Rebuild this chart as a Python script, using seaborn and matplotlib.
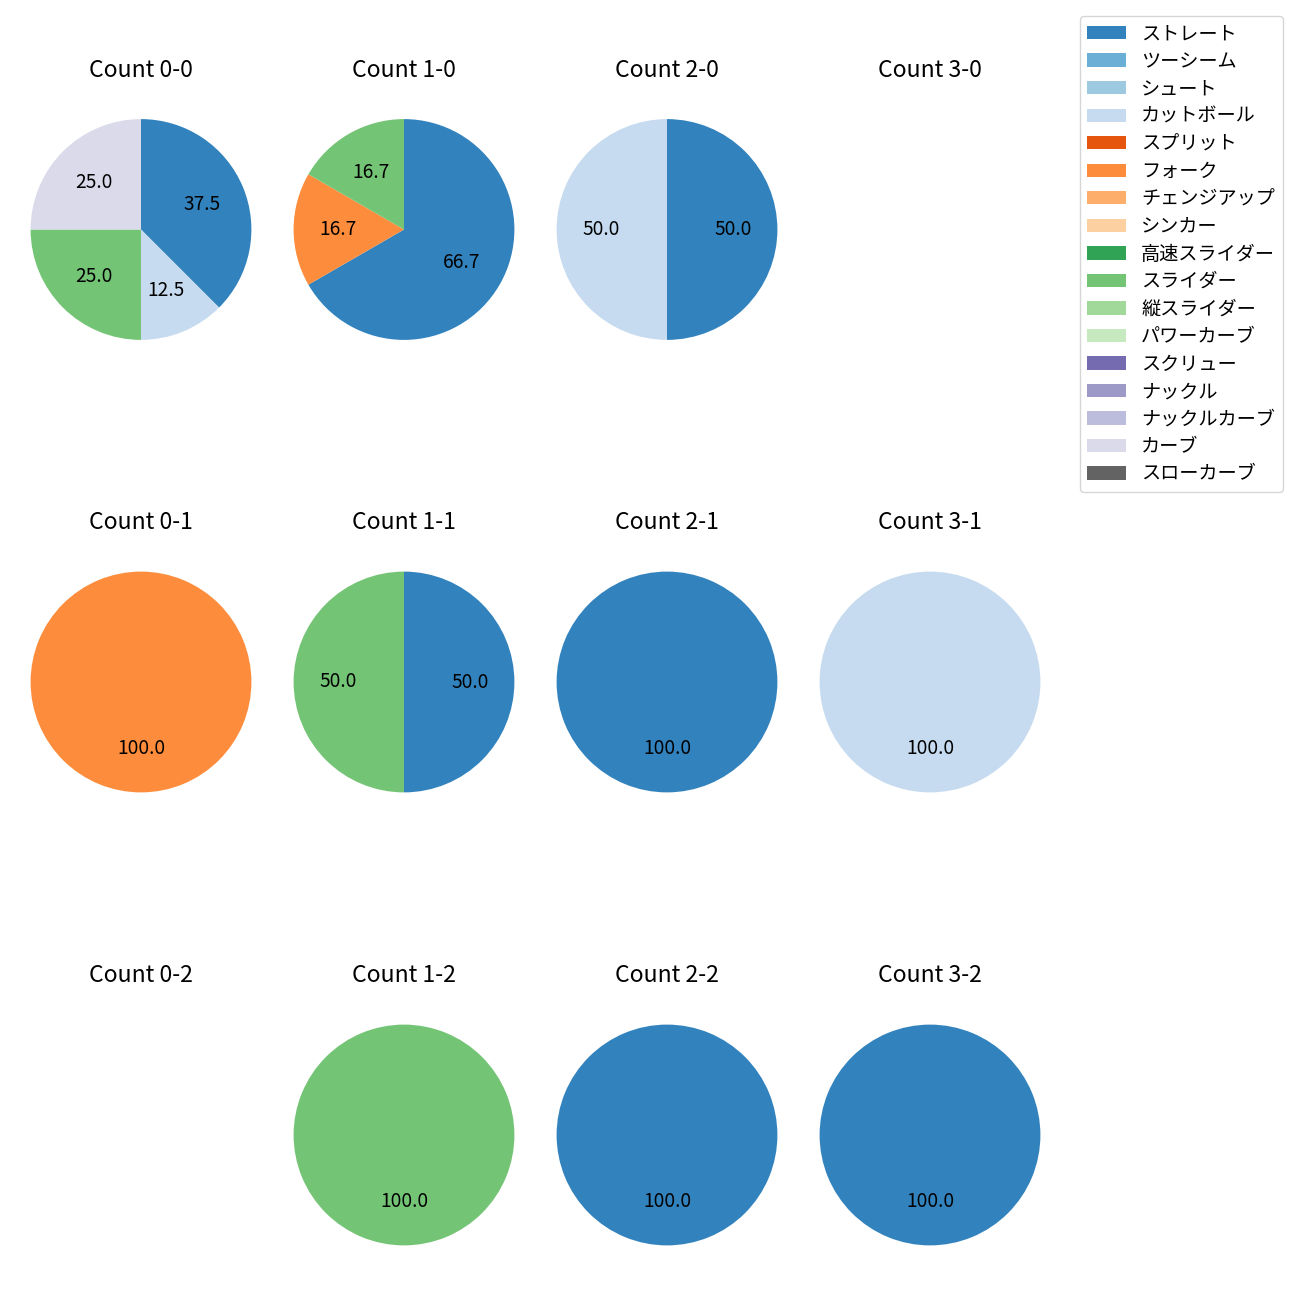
import matplotlib
matplotlib.use("Agg")
import matplotlib.pyplot as plt
from matplotlib.patches import Patch
import seaborn as sns

plt.rcParams['font.family'] = ['Noto Sans CJK JP', 'DejaVu Sans']
plt.rcParams['font.size'] = 13.8

pitch_types = ["ストレート", "ツーシーム", "シュート", "カットボール", "スプリット", "フォーク",
               "チェンジアップ", "シンカー", "高速スライダー", "スライダー", "縦スライダー",
               "パワーカーブ", "スクリュー", "ナックル", "ナックルカーブ", "カーブ", "スローカーブ"]

count_labels = ["0-0", "1-0", "2-0", "3-0",
                "0-1", "1-1", "2-1", "3-1",
                "0-2", "1-2", "2-2", "3-2"]

pitches_0_0 = ["ストレート", "カットボール", "スライダー", "カーブ"]
values_0_0 = [3, 1, 2, 2]
pitches_1_0 = ["ストレート", "フォーク", "スライダー"]
values_1_0 = [4, 1, 1]
pitches_2_0 = ["ストレート", "カットボール"]
values_2_0 = [1, 1]
pitches_3_0 = []
values_3_0 = []
pitches_0_1 = ["フォーク"]
values_0_1 = [1]
pitches_1_1 = ["ストレート", "スライダー"]
values_1_1 = [1, 1]
pitches_2_1 = ["ストレート"]
values_2_1 = [1]
pitches_3_1 = ["カットボール"]
values_3_1 = [1]
pitches_0_2 = []
values_0_2 = []
pitches_1_2 = ["スライダー"]
values_1_2 = [1]
pitches_2_2 = ["ストレート"]
values_2_2 = [1]
pitches_3_2 = ["ストレート"]
values_3_2 = [1]

data = [
    (pitches_0_0, values_0_0), (pitches_1_0, values_1_0), (pitches_2_0, values_2_0), (pitches_3_0, values_3_0),
    (pitches_0_1, values_0_1), (pitches_1_1, values_1_1), (pitches_2_1, values_2_1), (pitches_3_1, values_3_1),
    (pitches_0_2, values_0_2), (pitches_1_2, values_1_2), (pitches_2_2, values_2_2), (pitches_3_2, values_3_2),
]

palette = sns.color_palette("tab20c", 20)[:len(pitch_types)]
color_map = dict(zip(pitch_types, palette))

W = H = 1300
fig, axes = plt.subplots(3, 4, figsize=(13, 13), dpi=100)

col_centers = [141, 404, 667, 930]
row_centers = [229.5, 682, 1135]
side = 276.0

for i, ax in enumerate(axes.flat):
    r, c = divmod(i, 4)
    cx, cy = col_centers[c], row_centers[r]
    ax.set_position([(cx - side / 2) / W, 1 - (cy + side / 2) / H, side / W, side / H])
    pitches, vals = data[i]
    if vals:
        ax.pie(vals, colors=[color_map[p] for p in pitches], autopct='%.1f',
               startangle=90, counterclock=False, wedgeprops={'linewidth': 0})
    else:
        ax.axis('off')
        ax.set_aspect('equal')
    ax.set_title(f"Count {count_labels[i]}", pad=10.5)

handles = [Patch(facecolor=color_map[p], label=p) for p in pitch_types]
fig.legend(handles=handles, loc='upper right', labelspacing=0.34,
           bbox_to_anchor=(1282.7 / W, 1 - 15.7 / H), borderaxespad=0)

fig.savefig("out.png", dpi=100)
